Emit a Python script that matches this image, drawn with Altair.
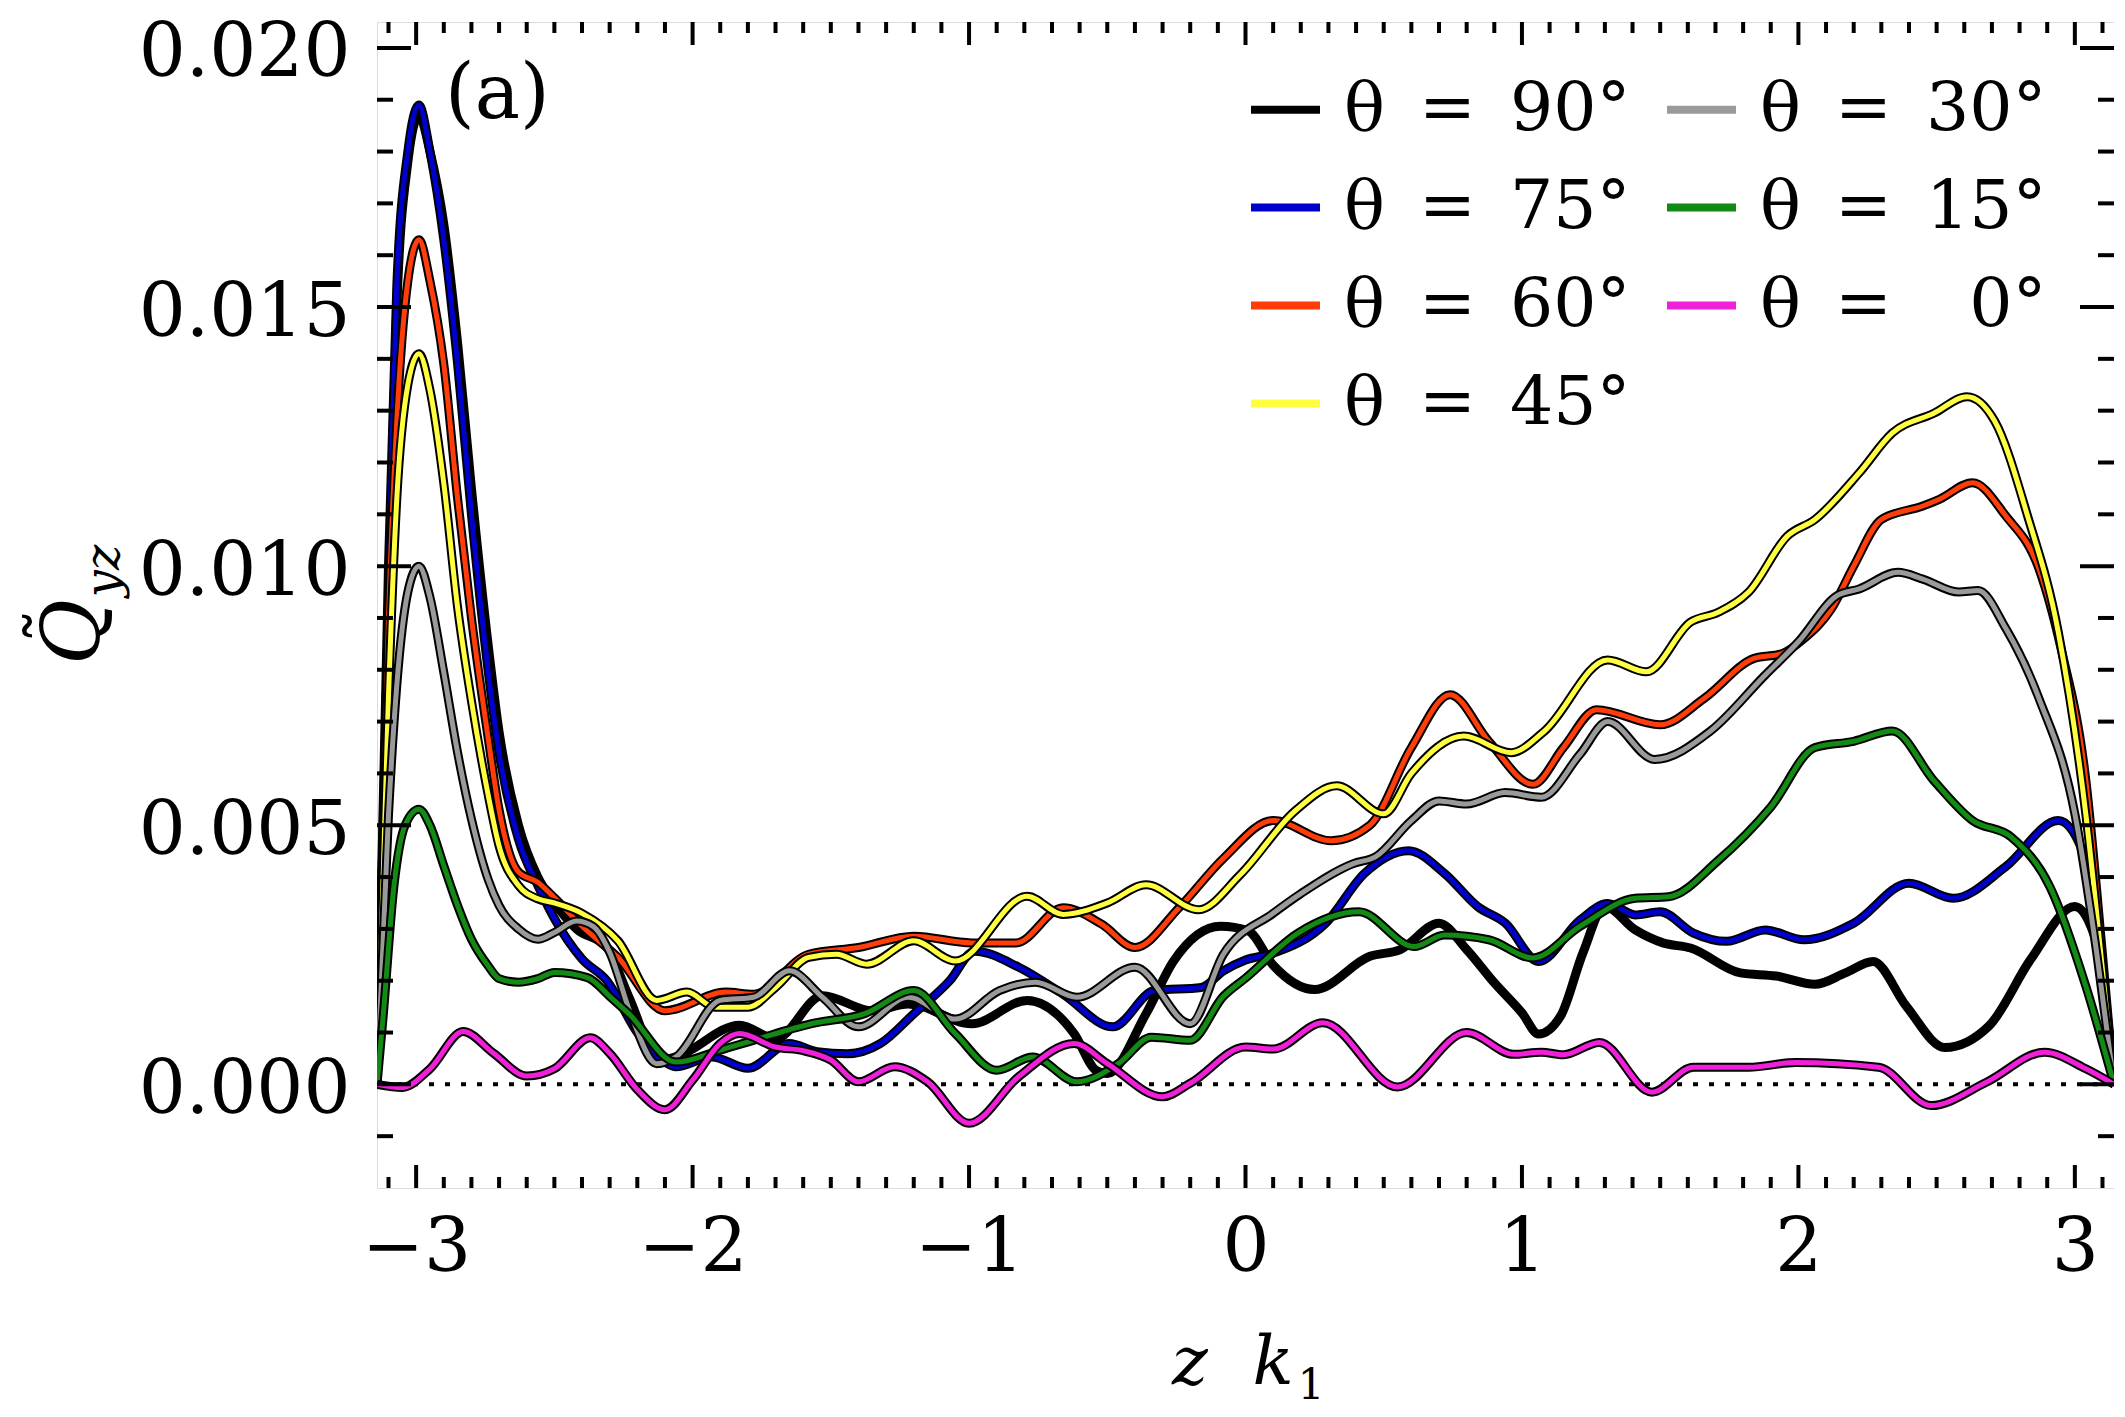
import math
import altair as alt
import pandas as pd

# ---------------- data ----------------
PI = 3.14159

theta90 = [(-PI, 0.0), (-3.1, 0.0092), (-3.07, 0.0150), (-3.03, 0.0178), (-2.99, 0.0187), (-2.95, 0.0180),
           (-2.9, 0.0166), (-2.85, 0.0143), (-2.8, 0.0115), (-2.74, 0.0085), (-2.7, 0.0068), (-2.63, 0.0050),
           (-2.56, 0.0040), (-2.5, 0.0035), (-2.42, 0.0030), (-2.31, 0.00264), (-2.23, 0.00168), (-2.12, 0.00047),
           (-2.06, 0.00053), (-1.83, 0.00114), (-1.7, 0.00088), (-1.53, 0.00171), (-1.35, 0.00142), (-1.22, 0.00155),
           (-0.99, 0.00117), (-0.79, 0.00162), (-0.62, 0.00098), (-0.54, 0.00027), (-0.5, 0.00021), (-0.36, 0.00136),
           (-0.26, 0.00238), (-0.09, 0.00305), (0.01, 0.00296), (0.1, 0.0023), (0.25, 0.00183), (0.45, 0.00247),
           (0.56, 0.0026), (0.7, 0.00311), (0.8, 0.0026), (0.9, 0.00196), (1.0, 0.00138), (1.06, 0.00097),
           (1.14, 0.00132), (1.22, 0.00253), (1.3, 0.00343), (1.41, 0.00298), (1.51, 0.00273), (1.61, 0.00263),
           (1.79, 0.00215), (1.92, 0.00209), (2.06, 0.00193), (2.17, 0.00215), (2.27, 0.00237), (2.39, 0.00151),
           (2.53, 0.00071), (2.69, 0.00113), (2.84, 0.00241), (3.0, 0.00343), (3.08, 0.0027), (PI, 0.0)]

theta75 = [(-PI, 0.0), (-3.1, 0.0100), (-3.07, 0.0154), (-3.03, 0.0180), (-2.99, 0.0189), (-2.95, 0.0180),
           (-2.9, 0.0163), (-2.85, 0.0139), (-2.8, 0.0110), (-2.74, 0.0080), (-2.7, 0.0064), (-2.63, 0.00473),
           (-2.56, 0.00384), (-2.5, 0.0032), (-2.4, 0.00242), (-2.31, 0.0020), (-2.2, 0.0010), (-2.1, 0.00043),
           (-2.06, 0.00034), (-1.93, 0.00053), (-1.8, 0.00031), (-1.65, 0.00079), (-1.55, 0.00063), (-1.44, 0.00059),
           (-1.32, 0.00079), (-1.2, 0.00136), (-1.07, 0.0020), (-0.98, 0.00257), (-0.82, 0.00226), (-0.66, 0.00174),
           (-0.48, 0.00111), (-0.33, 0.00181), (-0.16, 0.00187), (-0.08, 0.00219), (0.0, 0.0024), (0.1, 0.00253),
           (0.29, 0.00311), (0.43, 0.00407), (0.59, 0.00451), (0.72, 0.00407), (0.84, 0.00343), (0.94, 0.00311),
           (1.06, 0.00237), (1.21, 0.00317), (1.31, 0.00349), (1.41, 0.00327), (1.5, 0.00333), (1.62, 0.00292),
           (1.74, 0.00276), (1.88, 0.00298), (2.02, 0.00279), (2.2, 0.00311), (2.4, 0.00388), (2.56, 0.00359),
           (2.75, 0.0042), (2.94, 0.00509), (3.04, 0.00432), (3.1, 0.0019), (PI, 0.0)]

theta60 = [(-PI, 0.0), (-3.1, 0.0090), (-3.07, 0.0128), (-3.03, 0.0155), (-2.99, 0.0163), (-2.95, 0.0155),
           (-2.9, 0.0139), (-2.85, 0.0113), (-2.8, 0.0090), (-2.74, 0.0067), (-2.7, 0.0053), (-2.63, 0.0041),
           (-2.56, 0.0039), (-2.5, 0.0036), (-2.4, 0.00305), (-2.27, 0.00245), (-2.1, 0.00142), (-1.88, 0.00178),
           (-1.78, 0.00174), (-1.58, 0.00251), (-1.4, 0.00264), (-1.2, 0.00286), (-0.99, 0.00273), (-0.83, 0.00273),
           (-0.66, 0.00341), (-0.52, 0.00309), (-0.4, 0.00264), (-0.24, 0.00341), (-0.08, 0.00436), (0.1, 0.00509),
           (0.31, 0.0047), (0.45, 0.0050), (0.6, 0.0065), (0.74, 0.00752), (0.88, 0.00662), (1.04, 0.00579),
           (1.15, 0.0065), (1.27, 0.00723), (1.5, 0.00694), (1.66, 0.00745), (1.84, 0.00822), (1.94, 0.00831),
           (2.02, 0.0086), (2.12, 0.00918), (2.2, 0.0100), (2.3, 0.0109), (2.45, 0.01116), (2.51, 0.01129),
           (2.63, 0.01161), (2.75, 0.01097), (2.87, 0.00995), (2.95, 0.00841), (3.04, 0.00586), (3.1, 0.0025),
           (PI, 0.0)]

theta45 = [(-PI, 0.0), (-3.1, 0.0075), (-3.07, 0.0113), (-3.03, 0.0135), (-2.99, 0.0141), (-2.95, 0.0134),
           (-2.9, 0.0116), (-2.85, 0.0092), (-2.8, 0.0074), (-2.74, 0.0056), (-2.7, 0.0046), (-2.63, 0.00384),
           (-2.56, 0.00358), (-2.5, 0.0035), (-2.4, 0.0033), (-2.27, 0.00277), (-2.13, 0.00162), (-2.02, 0.00178),
           (-1.92, 0.00149), (-1.8, 0.00149), (-1.7, 0.00187), (-1.58, 0.00245), (-1.48, 0.00251), (-1.37, 0.00232),
           (-1.2, 0.00277), (-1.05, 0.00238), (-0.79, 0.00363), (-0.66, 0.00328), (-0.5, 0.0035), (-0.36, 0.00385),
           (-0.17, 0.00337), (-0.02, 0.00404), (0.18, 0.00528), (0.33, 0.00576), (0.5, 0.00522), (0.6, 0.0060),
           (0.79, 0.00672), (0.96, 0.0064), (1.08, 0.00681), (1.31, 0.00819), (1.45, 0.00796), (1.61, 0.00892),
           (1.71, 0.00911), (1.82, 0.0095), (1.96, 0.01058), (2.06, 0.0109), (2.22, 0.0118), (2.34, 0.01257),
           (2.49, 0.01295), (2.61, 0.01327), (2.71, 0.0128), (2.83, 0.01095), (2.94, 0.00873), (3.04, 0.0052),
           (3.1, 0.0022), (PI, 0.0)]

theta30 = [(-PI, 0.0), (-3.1, 0.0052), (-3.07, 0.0077), (-3.03, 0.0095), (-2.99, 0.0100), (-2.95, 0.0094),
           (-2.9, 0.00795), (-2.85, 0.0064), (-2.8, 0.00512), (-2.74, 0.00396), (-2.7, 0.00345), (-2.63, 0.0030),
           (-2.56, 0.0028), (-2.5, 0.00293), (-2.42, 0.00315), (-2.36, 0.00305), (-2.3, 0.00255), (-2.22, 0.0013),
           (-2.13, 0.0004), (-2.06, 0.00053), (-1.9, 0.00162), (-1.78, 0.00168), (-1.65, 0.00219), (-1.53, 0.00168),
           (-1.4, 0.00111), (-1.22, 0.00168), (-1.05, 0.00126), (-0.89, 0.00181), (-0.76, 0.00197), (-0.61, 0.00168),
           (-0.4, 0.00226), (-0.2, 0.00117), (-0.08, 0.00251), (0.1, 0.0033), (0.2, 0.00368), (0.39, 0.00426),
           (0.47, 0.00439), (0.6, 0.00509), (0.7, 0.00547), (0.8, 0.00541), (0.94, 0.00563), (1.07, 0.00554),
           (1.21, 0.00637), (1.31, 0.0070), (1.48, 0.00627), (1.68, 0.00681), (1.88, 0.0079), (2.0, 0.00854),
           (2.14, 0.00943), (2.22, 0.00956), (2.36, 0.00988), (2.45, 0.00975), (2.58, 0.0095), (2.65, 0.00953),
           (2.75, 0.0088), (2.87, 0.00745), (3.0, 0.00522), (3.08, 0.0025), (PI, 0.0)]

theta15 = [(-PI, 0.0), (-3.12, 0.00127), (-3.08, 0.00384), (-3.04, 0.0050), (-2.99, 0.00531), (-2.95, 0.0050),
           (-2.9, 0.00422), (-2.85, 0.00345), (-2.8, 0.0028), (-2.74, 0.00229), (-2.7, 0.00204), (-2.63, 0.00197),
           (-2.56, 0.00204), (-2.5, 0.00216), (-2.38, 0.00206), (-2.3, 0.0017), (-2.23, 0.00136), (-2.06, 0.00043),
           (-1.9, 0.00066), (-1.78, 0.00085), (-1.57, 0.00117), (-1.38, 0.00136), (-1.2, 0.00181), (-1.05, 0.00098),
           (-0.9, 0.00027), (-0.77, 0.00053), (-0.61, 0.00005), (-0.46, 0.0004), (-0.34, 0.00091), (-0.2, 0.00085),
           (-0.08, 0.0017), (0.0, 0.00205), (0.19, 0.00292), (0.41, 0.00333), (0.61, 0.00266), (0.72, 0.00288),
           (0.88, 0.00279), (1.04, 0.00244), (1.21, 0.00305), (1.41, 0.00359), (1.53, 0.00362), (1.71, 0.00432),
           (1.9, 0.00535), (2.06, 0.0065), (2.2, 0.00662), (2.34, 0.00682), (2.49, 0.00586), (2.63, 0.00509),
           (2.77, 0.00477), (2.91, 0.00381), (3.04, 0.00189), (PI, 0.0)]

theta0 = [(-PI, 0.0), (-3.05, -0.00006), (-2.95, 0.0003), (-2.83, 0.00102), (-2.72, 0.0006), (-2.6, 0.00016),
          (-2.5, 0.0003), (-2.37, 0.0009), (-2.3, 0.0006), (-2.2, -0.0001), (-2.1, -0.00049), (-2.0, 0.00008),
          (-1.9, 0.00079), (-1.83, 0.00098), (-1.7, 0.00072), (-1.6, 0.00065), (-1.5, 0.00047), (-1.4, 0.00005),
          (-1.27, 0.00034), (-1.15, 0.00005), (-1.0, -0.00075), (-0.82, 0.00015), (-0.62, 0.00079), (-0.5, 0.0004),
          (-0.3, -0.00024), (-0.2, 0.00002), (0.0, 0.00072), (0.1, 0.00068), (0.28, 0.00119), (0.55, -0.00005),
          (0.8, 0.001), (0.97, 0.00058), (1.07, 0.00062), (1.15, 0.00057), (1.28, 0.00081), (1.47, -0.00015),
          (1.62, 0.00033), (1.82, 0.00033), (1.99, 0.00042), (2.29, 0.00033), (2.48, -0.00041), (2.68, 0.00004),
          (2.89, 0.00062), (3.04, 0.0003), (PI, 0.0)]

series_labels = ["\u03b8\u2002=\u200290\u00b0", "\u03b8\u2002=\u200275\u00b0", "\u03b8\u2002=\u200260\u00b0",
                 "\u03b8\u2002=\u200245\u00b0", "\u03b8\u2002=\u200230\u00b0", "\u03b8\u2002=\u200215\u00b0",
                 "\u03b8\u2002=\u2002\u20070\u00b0"]
series_data = [theta90, theta75, theta60, theta45, theta30, theta15, theta0]
series_colors = ["#000000", "#0000CC", "#FF3D0A", "#FFFF40", "#9A9A9A", "#138A13", "#F01FD8"]

x_tick_labels = [-3, -2, -1, 0, 1, 2, 3]
y_tick_labels = [0.0, 0.005, 0.010, 0.015, 0.020]
x_minor_ticks = [round(-3.1 + 0.1 * i, 1) for i in range(63)]
x_minor_ticks = [v for v in x_minor_ticks if abs(v - round(v)) > 1e-6]
y_minor_ticks = [round(-0.001 + 0.001 * i, 3) for i in range(21)]
y_minor_ticks = [v for v in y_minor_ticks if abs(v / 0.005 - round(v / 0.005)) > 1e-6]

# ---------------- chart ----------------
W, H = 1737, 1166
FONT = "DejaVu Serif"

xscale = alt.Scale(domain=[-math.pi, math.pi], nice=False, zero=False)
yscale = alt.Scale(domain=[-0.002, 0.0205], nice=False, zero=False)
xaxis = alt.Axis(values=x_tick_labels, format="d", ticks=False, domain=False, grid=False,
                 labelFont=FONT, labelFontSize=74, labelPadding=24, labelColor="black",
                 labelFlush=False, labelOverlap=False, labelLimit=0, title=None)
yaxis = alt.Axis(values=y_tick_labels, format=".3f", ticks=False, domain=False, grid=False,
                 labelFont=FONT, labelFontSize=74, labelPadding=27, labelColor="black",
                 labelFlush=False, labelOverlap=False, labelLimit=0, labelOffset=6, title=None)
X = alt.X("x:Q", scale=xscale, axis=xaxis)
Y = alt.Y("y:Q", scale=yscale, axis=yaxis)

color_scale = alt.Scale(domain=series_labels, range=series_colors)
legend = alt.Legend(orient="none", legendX=870, legendY=49, columns=2, title=None,
                    symbolType="stroke", symbolSize=4761, symbolStrokeWidth=8,
                    labelFont=FONT, labelFontSize=68, labelColor="black", labelOffset=20,
                    columnPadding=20, rowPadding=25, padding=0, labelLimit=0)

layers = []

# zero reference line
layers.append(alt.Chart(pd.DataFrame({"y": [0.0]})).mark_rule(
    color="black", strokeWidth=4, strokeDash=[5, 11]).encode(y=Y))

for lab, pts in zip(series_labels, series_data):
    df = pd.DataFrame({"x": [p[0] for p in pts], "y": [p[1] for p in pts],
                       "label": lab, "i": list(range(len(pts)))})
    layers.append(alt.Chart(df).mark_line(color="black", strokeWidth=9, interpolate="monotone",
                                          clip=True).encode(x=X, y=Y, order="i:Q"))
    layers.append(alt.Chart(df).mark_line(strokeWidth=5, interpolate="monotone", clip=True).encode(
        x=X, y=Y, order="i:Q", color=alt.Color("label:N", scale=color_scale, legend=legend)))

# inward ticks on all four sides
dfxM = pd.DataFrame({"x": x_tick_labels})
dfxm = pd.DataFrame({"x": x_minor_ticks})
dfyM = pd.DataFrame({"y": y_tick_labels})
dfym = pd.DataFrame({"y": y_minor_ticks})
tick = dict(color="black", strokeWidth=4)
layers += [
    alt.Chart(dfxM).mark_rule(**tick).encode(x=X, y=alt.value(H), y2=alt.value(H - 23)),
    alt.Chart(dfxm).mark_rule(**tick).encode(x=X, y=alt.value(H), y2=alt.value(H - 11)),
    alt.Chart(dfxM).mark_rule(**tick).encode(x=X, y=alt.value(0), y2=alt.value(23)),
    alt.Chart(dfxm).mark_rule(**tick).encode(x=X, y=alt.value(0), y2=alt.value(11)),
    alt.Chart(dfyM).mark_rule(**tick).encode(y=Y, x=alt.value(0), x2=alt.value(34)),
    alt.Chart(dfym).mark_rule(**tick).encode(y=Y, x=alt.value(0), x2=alt.value(16)),
    alt.Chart(dfyM).mark_rule(**tick).encode(y=Y, x=alt.value(W), x2=alt.value(W - 34)),
    alt.Chart(dfym).mark_rule(**tick).encode(y=Y, x=alt.value(W), x2=alt.value(W - 16)),
]

# text annotations: panel label and axis titles
one = pd.DataFrame({"a": [0]})
def txt(s, x, y, size, style="normal", angle=0, align="center", baseline="alphabetic"):
    kw = dict(text=s, font=FONT, fontSize=size, fontStyle=style, color="black",
              align=align, baseline=baseline)
    if angle:
        kw["angle"] = angle
    return alt.Chart(one).mark_text(**kw).encode(x=alt.value(x), y=alt.value(y))

layers += [
    txt("(a)", 68, 73, 76, align="left", baseline="middle"),
    txt("z", 813, 1362, 68, style="italic"),
    txt("k", 896, 1362, 68, style="italic"),
    txt("1", 934, 1377, 42),
    txt("Q", -278, 610, 80, style="italic", angle=270),
    txt("\u02dc", -355, 604, 72, angle=270, baseline="top"),
    txt("yz", -258, 549, 48, style="italic", angle=270),
]

chart = alt.layer(*layers).properties(
    width=W, height=H,
    padding={"left": 369, "top": 14, "right": 0, "bottom": 224},
    autosize=alt.AutoSizeParams(type="none"),
).configure_view(stroke="black", strokeWidth=4).configure(background="white")

chart.save("out.html", embed_options={"renderer": "svg", "actions": False})
